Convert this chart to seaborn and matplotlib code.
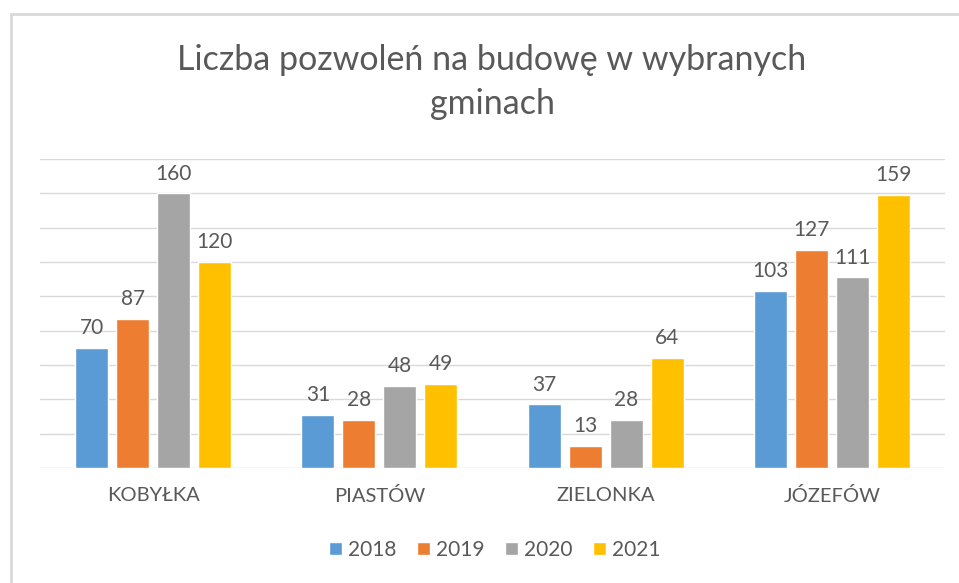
import matplotlib.pyplot as plt
import matplotlib.lines as mlines
import pandas as pd
import seaborn as sns

# dane z wykresu
gminy = ["KOBYŁKA", "PIASTÓW", "ZIELONKA", "JÓZEFÓW"]
lata = ["2018", "2019", "2020", "2021"]
w2018 = [70, 31, 37, 103]
w2019 = [87, 28, 13, 127]
w2020 = [160, 48, 28, 111]
w2021 = [120, 49, 64, 159]
kolory = ["#5B9BD5", "#ED7D31", "#A5A5A5", "#FFC000"]

df = pd.DataFrame({"gmina": gminy * 4,
                   "rok": [r for r in lata for _ in gminy],
                   "liczba": w2018 + w2019 + w2020 + w2021})

sns.set_theme(style="white")
plt.rcParams["font.family"] = ["Lato", "DejaVu Sans"]
szary = "#595959"

fig = plt.figure(figsize=(9.59, 5.83), dpi=100)
ax = fig.add_axes([40 / 959, 1 - 468 / 583, 905 / 959, 309 / 583])

sns.barplot(data=df, x="gmina", y="liczba", hue="rok", palette=kolory,
            width=0.725, gap=0.2, saturation=1, ax=ax)

for c in ax.containers:
    ax.bar_label(c, padding=7, fontsize=15, color=szary)

ax.set_ylim(0, 180)
ax.set_yticks(range(0, 181, 20))
ax.set_yticklabels([])
ax.tick_params(axis="y", length=0)
ax.tick_params(axis="x", length=0, pad=14, labelsize=14.5, labelcolor=szary)
ax.grid(axis="y", color="#D9D9D9", linewidth=1)
ax.set_axisbelow(True)
for s in ax.spines.values():
    s.set_visible(False)
ax.set_xlabel("")
ax.set_ylabel("")

ax.legend(loc="center", bbox_to_anchor=(495 / 959, 1 - 550 / 583),
          bbox_transform=fig.transFigure, ncol=4, frameon=False,
          fontsize=15, labelcolor=szary, handlelength=0.6, handleheight=0.6,
          handletextpad=0.3, columnspacing=1.0)

fig.text(492 / 959, 1 - 60 / 583, "Liczba pozwoleń na budowę w wybranych",
         ha="center", va="center", fontsize=24.5, color=szary)
fig.text(492 / 959, 1 - 104 / 583, "gminach",
         ha="center", va="center", fontsize=24.5, color=szary)

# ramka wykresu (góra i lewa strona)
fig.add_artist(mlines.Line2D([11 / 959, 1], [1 - 14 / 583, 1 - 14 / 583],
                             transform=fig.transFigure, color="#D9D9D9", lw=2))
fig.add_artist(mlines.Line2D([11 / 959, 11 / 959], [0, 1 - 14 / 583],
                             transform=fig.transFigure, color="#D9D9D9", lw=2))

fig.savefig("out.png", dpi=100)
